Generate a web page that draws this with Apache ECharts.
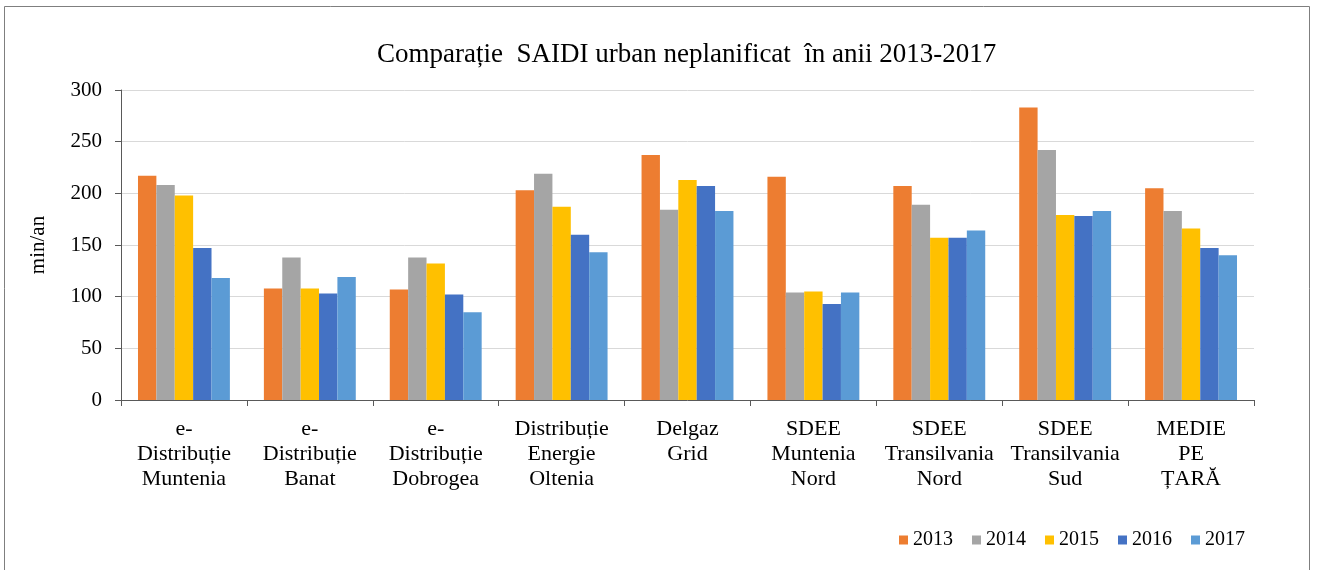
<!DOCTYPE html>
<html>
<head>
<meta charset="utf-8">
<script src="https://cdn.jsdelivr.net/npm/echarts@6/dist/echarts.min.js"></script>
<style>
html,body{margin:0;padding:0;background:#fff;}
#c{width:1318px;height:570px;}
</style>
</head>
<body>
<div id="c"></div>
<script>
const categories = [
  "e-\nDistribuție\nMuntenia",
  "e-\nDistribuție\nBanat",
  "e-\nDistribuție\nDobrogea",
  "Distribuție\nEnergie\nOltenia",
  "Delgaz\nGrid",
  "SDEE\nMuntenia\nNord",
  "SDEE\nTransilvania\nNord",
  "SDEE\nTransilvania\nSud",
  "MEDIE\nPE\nȚARĂ"
];
const years = ["2013", "2014", "2015", "2016", "2017"];
const v2013 = [217, 108, 107, 203, 237, 216, 207, 283, 205];
const v2014 = [208, 138, 138, 219, 184, 104, 189, 242, 183];
const v2015 = [198, 108, 132, 187, 213, 105, 157, 179, 166];
const v2016 = [147, 103, 102, 160, 207, 93, 157, 178, 147];
const v2017 = [118, 119, 85, 143, 183, 104, 164, 183, 140];
const yTicks = [0, 50, 100, 150, 200, 250, 300];
const colors = ["#ED7D31", "#A5A5A5", "#FFC000", "#4472C4", "#5B9BD5"];

const values = [v2013, v2014, v2015, v2016, v2017];
const font = "'Liberation Serif', 'Times New Roman', serif";

const chart = echarts.init(document.getElementById('c'));
chart.setOption({
  animation: false,
  textStyle: { fontFamily: font },
  title: {
    text: "Comparație  SAIDI urban neplanificat  în anii 2013-2017",
    left: 372,
    top: 36,
    textStyle: { fontFamily: font, fontSize: 27, fontWeight: 'normal', color: '#000' }
  },
  graphic: [{
    type: 'rect',
    shape: { x: 4.5, y: 6.5, width: 1305, height: 570 },
    style: { fill: 'none', stroke: '#7f7f7f', lineWidth: 1 },
    silent: true
  }],
  legend: {
    data: years,
    right: 68,
    top: 525,
    itemWidth: 9,
    itemHeight: 9,
    itemGap: 19,
    icon: 'rect',
    textStyle: { fontFamily: font, fontSize: 20, color: '#000' }
  },
  grid: { left: 121, right: 64, top: 90, bottom: 170, containLabel: false },
  xAxis: {
    type: 'category',
    data: categories,
    axisLine: { lineStyle: { color: '#595959', width: 1 } },
    axisTick: { show: true, length: 6, lineStyle: { color: '#595959' } },
    axisLabel: { fontFamily: font, fontSize: 22, color: '#000', lineHeight: 25, margin: 17, interval: 0 }
  },
  yAxis: {
    type: 'value',
    min: 0,
    max: 300,
    interval: 50,
    name: 'min/an',
    nameLocation: 'middle',
    nameGap: 72,
    nameTextStyle: { fontFamily: font, fontSize: 21, color: '#000' },
    axisLine: { show: true, lineStyle: { color: '#595959' } },
    axisTick: { show: true, length: 6, lineStyle: { color: '#595959' } },
    axisLabel: { fontFamily: font, fontSize: 21, color: '#000', margin: 19,
      formatter: function (v) { return yTicks.indexOf(v) >= 0 ? String(v) : ''; } },
    splitLine: { lineStyle: { color: '#d9d9d9', width: 1 } }
  },
  series: years.map((y, i) => ({
    name: y,
    type: 'bar',
    data: values[i],
    barGap: '0%',
    barCategoryGap: '27%',
    itemStyle: { color: colors[i] }
  }))
});
</script>
</body>
</html>
